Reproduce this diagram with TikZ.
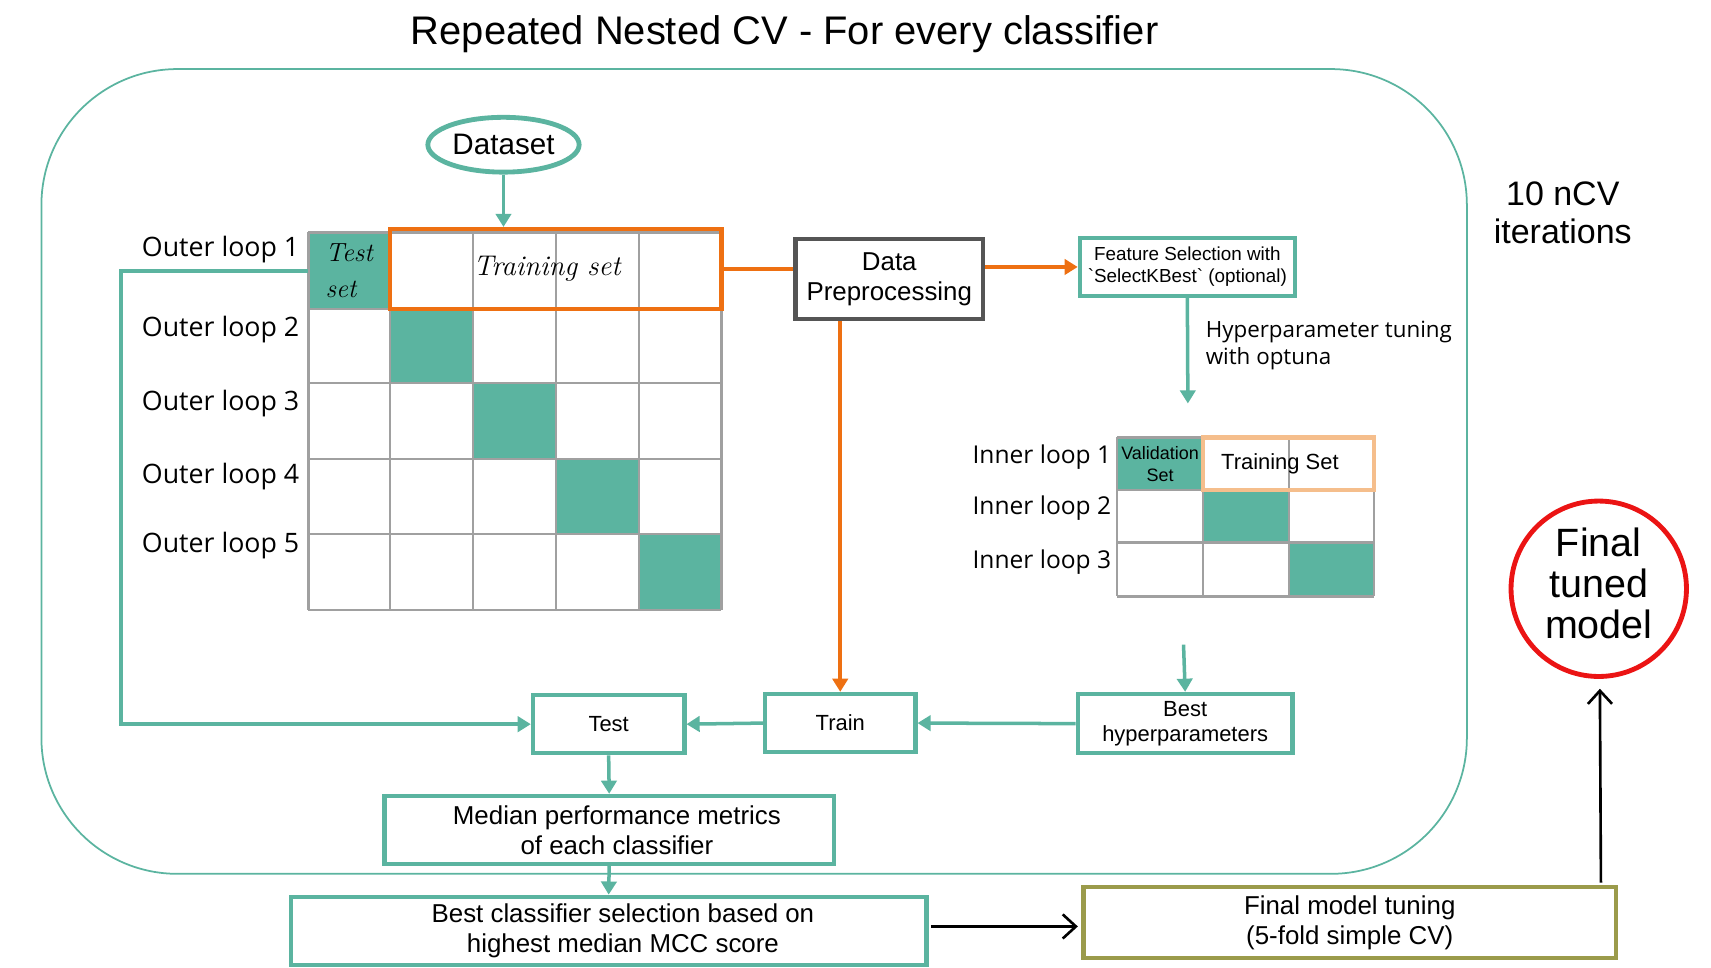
\documentclass[tikz,border=0pt]{standalone}
\usepackage{fontspec}
\setmainfont{Liberation Sans}
\newfontfamily\osans{Open Sans}
\newfontfamily\hand{Latin Modern Roman}
\usetikzlibrary{arrows.meta,calc,shapes.geometric}
\definecolor{tealc}{RGB}{91,180,160}
\definecolor{orangec}{RGB}{238,112,18}
\definecolor{lorange}{RGB}{245,190,140}
\definecolor{dgray}{RGB}{85,85,85}
\definecolor{gridc}{RGB}{160,160,160}
\definecolor{olivec}{RGB}{155,155,75}
\definecolor{redc}{RGB}{235,20,20}
\newcommand{\fs}[2]{\fontsize{#1}{#2}\selectfont}
\tikzset{
  tbox/.style={draw=tealc, line width=2pt, inner sep=0pt, align=center, fill=white},
  gridl/.style={draw=gridc, line width=1pt},
  tarrow/.style={draw=tealc, line width=1.6pt, -{Triangle[length=6pt,width=7pt]}},
  oarrow/.style={draw=orangec, line width=1.6pt, -{Triangle[length=6pt,width=7pt]}},
  karrow/.style={draw=black, line width=1.2pt, -{Straight Barb[length=6pt,width=11pt,line width=1.2pt]}},
  lbl/.style={font=\osans\fs{12.2}{14}, anchor=east, inner sep=0pt},
  ilbl/.style={font=\osans\fs{11.2}{13}, anchor=east, inner sep=0pt},
  tcell/.style={fill=tealc, draw=none, inner sep=0pt},
}
\begin{document}
\begin{tikzpicture}[x=0.497pt,y=-0.5pt]
\useasboundingbox (0,0) rectangle (1570,882);
% title
\node[font=\fs{18.2}{21}] (title) at (720,31) {Repeated Nested CV - For every classifier};
% frame
\draw[tealc, line width=0.8pt, rounded corners=62pt] (38,63) rectangle (1346,797);
% dataset
\node[draw=tealc, line width=2.2pt, ellipse, minimum width=69pt, minimum height=25pt, inner sep=0pt, font=\fs{13.5}{15}] (ds) at (462,132) {Dataset};
% outer grid
\node[tcell, minimum width=37.5pt, minimum height=35pt, align=left, font=\hand\itshape\fs{12}{16.5}] (o11) at (320.5,247) {Test\\set};
\fill[tealc] (358,282) rectangle (434,349);
\fill[tealc] (434,349) rectangle (510,419);
\fill[tealc] (510,419) rectangle (586,487);
\fill[tealc] (586,487) rectangle (662,556);
\foreach \x in {283,358,434,510,586,662} \draw[gridl] (\x,212) -- (\x,556);
\foreach \y in {212,282,349,419,487,556} \draw[gridl] (283,\y) -- (662,\y);
\node[draw=orangec, line width=2pt, minimum width=151pt, minimum height=36.5pt, inner sep=0pt, font=\hand\itshape\fs{13}{15}] (otr) at (510,245.5) {\hspace{-8pt}Training set};
\node[lbl] (ol1) at (275,228) {Outer loop 1};
\node[lbl] (ol2) at (275,301) {Outer loop 2};
\node[lbl] (ol3) at (275,368) {Outer loop 3};
\node[lbl] (ol4) at (275,435) {Outer loop 4};
\node[lbl] (ol5) at (275,498) {Outer loop 5};
% data preprocessing
\node[draw=dgray, line width=2pt, minimum width=85.5pt, minimum height=36.5pt, inner sep=0pt, align=center, font=\fs{11.8}{13.5}] (dp) at (816,254.5) {Data\\Preprocessing};
% feature selection
\node[tbox, minimum width=98pt, minimum height=26.5pt, font=\fs{8.6}{10}] (fsel) at (1089.5,243.5) {Feature Selection with\\\textasciigrave SelectKBest\textasciigrave{} (optional)};
\node[font=\osans\fs{10.2}{12.5}, anchor=north west, align=left, inner sep=0pt] (hyp) at (1106,292) {Hyperparameter tuning\\with optuna};
\coordinate (fsend) at (1090,368);
% inner grid
\node[tcell, minimum width=39.3pt, minimum height=24pt, align=center, font=\fs{8.2}{10}] (i11) at (1064.5,423) {Validation\\Set};
\fill[tealc] (1104,447) rectangle (1183,495);
\fill[tealc] (1183,495) rectangle (1261,544);
\foreach \x in {1025,1104,1183,1261} \draw[gridl] (\x,399) -- (\x,544);
\foreach \y in {399,447} \draw[gridl] (1025,\y) -- (1261,\y);
\foreach \y in {495,544} \draw[gridc, line width=1.6pt] (1025,\y) -- (1261,\y);
\node[draw=lorange, line width=2pt, minimum width=78pt, minimum height=24pt, inner sep=0pt, font=\fs{10}{12}] (itr) at (1182.5,423) {\hspace{-8pt}Training Set};
\node[ilbl] (il1) at (1020,417) {Inner loop 1};
\node[ilbl] (il2) at (1020,463) {Inner loop 2};
\node[ilbl] (il3) at (1020,513) {Inner loop 3};
\coordinate (igend) at (1086,588);
% bottom flow
\node[tbox, minimum width=98pt, minimum height=27pt, font=\fs{10}{11.5}] (bh) at (1087.5,660) {Best\\hyperparameters};
\node[tbox, minimum width=68.5pt, minimum height=26.5pt, font=\fs{10}{11}] (train) at (771,659.5) {Train};
\node[tbox, minimum width=69pt, minimum height=26.5pt, font=\fs{10}{11}] (test) at (558.5,660.5) {Test};
\node[tbox, minimum width=205pt, minimum height=31pt, font=\fs{11.8}{13.5}] (med) at (559,757) {\hspace*{7pt}Median performance metrics\\\hspace*{7pt}of each classifier};
\node[tbox, minimum width=290pt, minimum height=31pt, font=\fs{11.8}{13.8}] (bc) at (558.5,849) {\hspace*{13pt}Best classifier selection based on\\\hspace*{13pt}highest median MCC score};
\node[draw=olivec, line width=2pt, minimum width=243pt, minimum height=32.5pt, inner sep=0pt, align=center, font=\fs{11.8}{13.5}] (fmt) at (1238.5,841.5) {Final model tuning\\(5-fold simple CV)};
\node[draw=redc, line width=2.2pt, circle, minimum size=80pt, inner sep=0pt, align=center, font=\fs{18}{20}] (fin) at (1467,537) {\raisebox{2.5pt}{\begin{tabular}{@{}c@{}}Final\\[-1.2pt]tuned\\[-1.2pt]model\end{tabular}}};
\node[font=\fs{15.5}{17}, align=center] (ncv) at (1434,194) {10 nCV\\iterations};
% connectors
\draw[tarrow] (ds.south) -- (ds.south |- otr.north);
\draw[tarrow, line width=1.8pt] (o11.west) -- ++(-171,0) |- (test.west);
\draw[orangec, line width=1.8pt] (otr.east) -- (otr.east -| dp.west);
\draw[oarrow] (dp.east |- fsel.west) -- (fsel.west);
\draw[oarrow] (dp.south -| train.north) -- (train.north);
\draw[tarrow] (fsel.south) -- (fsend);
\draw[tarrow] (igend) -- (bh.north);
\draw[tarrow] (bh.west) -- (train.east);
\draw[tarrow] (train.west) -- (test.east);
\draw[tarrow] (test.south) -- (med.north);
\draw[tarrow] (med.south) -- (bc.north);
\draw[karrow] ($(bc.east)+(2,-4)$) -- ($(bc.east -| fmt.west)+(-3,-4)$);
\draw[karrow, shorten >=4.5pt] (fin.south |- fmt.north) ++(2,-2) -- ($(fin.south)+(1,0)$);
\end{tikzpicture}
\end{document}
